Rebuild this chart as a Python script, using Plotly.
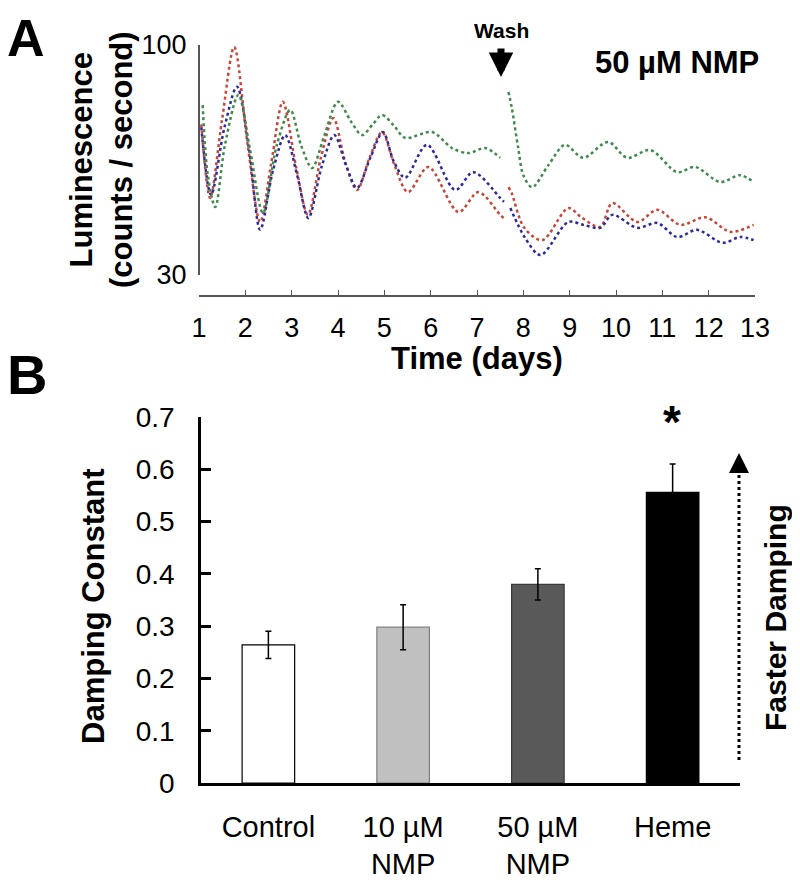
import numpy as np
import plotly.graph_objects as go

# page body adds an 8px margin, so the figure is 8px smaller than the window
W, H = 792, 876
OFF = 8

# --- Panel A: luminescence traces (days, counts/s) ---
red_t = [1.05, 1.24, 1.5, 1.76, 2.05, 2.32, 2.56, 2.81, 3.1, 3.35, 3.63, 3.9, 4.16, 4.41,
         4.68, 4.95, 5.22, 5.51, 5.95, 6.6, 7.03, 7.5, 7.58, 7.63, 7.68, 7.75, 8.02, 8.41,
         8.97, 9.25, 9.66, 9.92, 10.46, 10.89, 11.39, 11.93, 12.47, 12.97]
red_v = [66, 44.9, 68, 99, 59.3, 39.6, 54, 74.3, 52.5, 41.1, 55.4, 68.2, 54, 46.8,
         55.4, 63.4, 53.3, 46.3, 52.8, 41.7, 46.3, 41.1, 40.4, None, 47.5, 46, 38.4, 36.0,
         42.6, 40.6, 38.6, 43.7, 39.6, 42.2, 39.0, 40.6, 37.6, 39.0]

blue_t = [1.05, 1.26, 1.55, 1.82, 2.08, 2.32, 2.6, 2.86, 3.12, 3.36, 3.65, 3.92, 4.18, 4.41,
          4.7, 4.97, 5.2, 5.45, 5.92, 6.53, 6.92, 7.5, 7.58, 7.63, 7.72, 8.04, 8.37, 8.97,
          9.3, 9.66, 9.92, 10.46, 10.89, 11.32, 11.75, 12.3, 12.68, 12.97]
blue_v = [65, 45.6, 65, 80.4, 58, 38.0, 52, 62.4, 50.5, 40.4, 53, 62.4, 53, 47.3,
          55.5, 63.4, 54.5, 49.9, 59.3, 46.8, 51.4, 44.9, 44.0, None, 42.6, 36.4, 33.3, 39.6,
          39.0, 38.4, 41.1, 38.4, 39.4, 36.6, 38.0, 35.5, 36.6, 36.0]

green_t = [1.08, 1.19, 1.35, 1.56, 1.85, 2.1, 2.38, 2.68, 2.97, 3.2, 3.44, 3.7, 4.0, 4.28,
           4.52, 4.75, 4.95, 5.2, 5.45, 6.03, 6.46, 6.81, 7.18, 7.5, 7.6, 7.68, 7.75, 7.89,
           8.0, 8.19, 8.54, 8.9, 9.29, 9.83, 10.24, 10.74, 11.32, 11.71, 12.25, 12.68, 12.97]
green_v = [73, 50.6, 42.8, 59.3, 77, 58, 41.5, 59.3, 71.2, 59.3, 52.5, 62, 74.3, 67,
           62.4, 66, 69.3, 65.7, 61.5, 63.4, 58.3, 56.8, 58.3, 55.4, None, 78.2, 72, 58.3,
           50.6, 47.5, 53.3, 59.3, 55.4, 60.2, 55.4, 57.7, 51.4, 52.8, 48.8, 50.6, 48.8]

# --- Panel B: damping constants ---
groups = ["Control", "10 µM<br>NMP", "50 µM<br>NMP", "Heme"]
damping = [0.264, 0.298, 0.380, 0.556]
damping_err = [0.026, 0.043, 0.030, 0.054]
bar_fill = ["white", "#c0c0c0", "#595959", "black"]
bar_edge = ["black", "#7f7f7f", "#3a3a3a", "black"]


def px(x):
    return (x - OFF) / W


def py(y):
    return 1 - (y - OFF) / H


fig = go.Figure()

for t, v, c in [(red_t, red_v, "#c8453a"), (blue_t, blue_v, "#2b2b9c"), (green_t, green_v, "#3f8a4c")]:
    fig.add_trace(go.Scatter(x=t, y=v, mode="lines", xaxis="x", yaxis="y",
                             line=dict(color=c, width=2.5, dash="dot", shape="spline", smoothing=0.9),
                             connectgaps=False))

fig.add_trace(go.Bar(x=groups, y=damping, xaxis="x2", yaxis="y2",
                     marker=dict(color=bar_fill, line=dict(color=bar_edge, width=1.2)),
                     error_y=dict(type="data", array=damping_err, color="black", thickness=1.5, width=3)))

fig.update_layout(
    width=W, height=H,
    margin=dict(l=0, r=0, t=0, b=0),
    plot_bgcolor="white", paper_bgcolor="white",
    showlegend=False, bargap=0.61,
    font=dict(family="Liberation Sans, Arial, sans-serif", color="black"),
    xaxis=dict(domain=[px(199), px(755)], range=[1, 13], anchor="free", position=py(296),
               showline=True, linecolor="#555", linewidth=1.5, ticks="inside", ticklen=5,
               tickcolor="#555", tickvals=list(range(1, 14)), tickfont=dict(size=27),
               showgrid=False, zeroline=False, ticklabelstandoff=8, automargin=False),
    yaxis=dict(domain=[py(275), py(45)], type="log", range=[np.log10(30), 2],
               anchor="free", position=px(199), showline=True, linecolor="#555", linewidth=2,
               ticks="inside", ticklen=5, tickcolor="#555", tickvals=[30, 100],
               tickfont=dict(size=27), showgrid=False, zeroline=False, ticklabelstandoff=6,
               automargin=False),
    xaxis2=dict(domain=[px(201), px(740)], anchor="y2", showline=True, linecolor="black",
                linewidth=2.5, ticks="", tickfont=dict(size=29), showgrid=False,
                ticklabelstandoff=16, automargin=False),
    yaxis2=dict(domain=[py(783), py(417)], anchor="x2", range=[0, 0.7], dtick=0.1,
                showline=True, linecolor="black", linewidth=2.5, ticks="inside", ticklen=10,
                tickwidth=2.5, tickcolor="black", tickfont=dict(size=28), showgrid=False,
                zeroline=False, ticklabelstandoff=18, automargin=False),
)

def note(text, x, y, size, angle=0, bold=True):
    fig.add_annotation(text=f"<b>{text}</b>" if bold else text, x=px(x), y=py(y),
                       xref="paper", yref="paper", showarrow=False, textangle=angle,
                       font=dict(size=size), xanchor="center", yanchor="middle")

note("A", 26, 38, 52)
note("B", 27, 375, 56)
note("Luminescence<br>(counts / second)", 101, 160, 31, -90)
note("Time (days)", 477, 358, 31)
note("Wash", 501, 30, 21)
note("50 µM NMP", 677, 63, 31)
note("Damping Constant", 93, 606, 31, -90)
note("Faster Damping", 775, 618, 30, -90)
note("*", 672, 422, 46)

# wash arrow
fig.add_annotation(text="", x=px(501), y=py(77), xref="paper", yref="paper",
                   ax=0, ay=-30, showarrow=True, arrowhead=2, arrowsize=0.7,
                   arrowwidth=7, arrowcolor="black")

# faster damping dotted arrow
fig.add_shape(type="line", xref="paper", yref="paper", x0=px(739), x1=px(739),
              y0=py(760), y1=py(466), line=dict(color="black", width=3, dash="dot"))
fig.add_annotation(text="", x=px(739), y=py(453), xref="paper", yref="paper",
                   ax=0, ay=16, showarrow=True, arrowhead=2, arrowsize=1.6,
                   arrowwidth=2.5, arrowcolor="black")

fig.write_html("out.html")
